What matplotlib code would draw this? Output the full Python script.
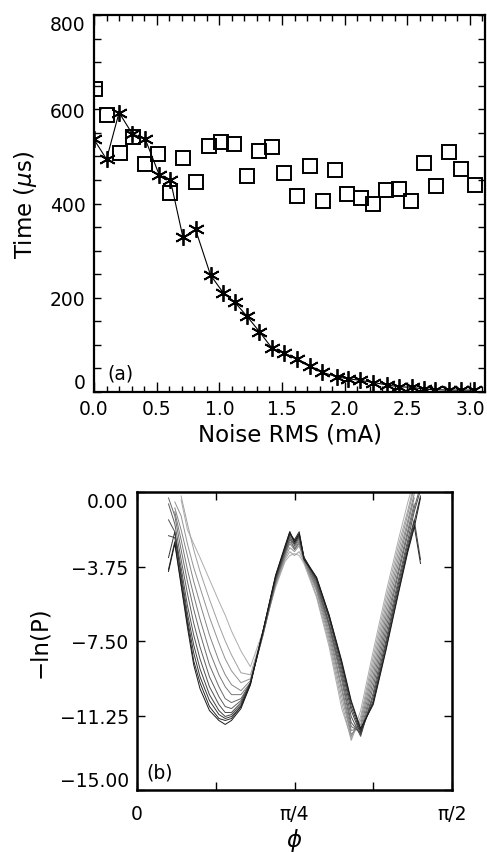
import numpy as np
import matplotlib
matplotlib.use("Agg")
import matplotlib.pyplot as plt
from matplotlib.ticker import MultipleLocator, FixedLocator, FixedFormatter, FormatStrFormatter

plt.rcParams['font.family'] = ['DejaVu Sans']
plt.rcParams['mathtext.fontset'] = 'dejavusans'

# ---------------- Panel (a) data ----------------
noise_sq = [0.01, 0.10, 0.21, 0.31, 0.41, 0.51, 0.61, 0.71, 0.81, 0.915, 1.015, 1.12,
            1.22, 1.32, 1.42, 1.52, 1.62, 1.72, 1.825, 1.92, 2.02, 2.13, 2.23, 2.33,
            2.43, 2.53, 2.63, 2.73, 2.83, 2.93, 3.04]
time_sq = [643, 587, 508, 542, 483, 505, 422, 497, 446, 521, 531, 527,
           459, 512, 519, 464, 415, 480, 406, 471, 420, 411, 399, 429,
           431, 406, 487, 437, 509, 473, 440]

noise_st = [0.0, 0.10, 0.20, 0.305, 0.41, 0.52, 0.61, 0.71, 0.81, 0.93, 1.03, 1.125,
            1.22, 1.32, 1.42, 1.52, 1.62, 1.72, 1.82, 1.94, 2.03, 2.12, 2.23, 2.34,
            2.43, 2.54, 2.63, 2.72, 2.83, 2.93, 3.03]
time_st = [536, 494, 593, 548, 536, 461, 449, 328, 345, 248, 211, 190,
           161, 128, 93, 82, 71, 55, 42, 32, 28, 25, 20, 15,
           11, 10, 6, 5, 4, 4, 4]
a_yticks = [0, 200, 400, 600, 800]

# ---------------- Panel (b) data ----------------
# phi expressed as a fraction of pi/2
phi_frac = [0.10, 0.12, 0.14, 0.16, 0.18, 0.20, 0.23, 0.26, 0.28, 0.30, 0.33, 0.36, 0.40, 0.44,
            0.47, 0.485, 0.50, 0.515, 0.53, 0.57, 0.61, 0.65, 0.68, 0.71, 0.75, 0.79, 0.83,
            0.86, 0.88, 0.90]
nan = np.nan
lnP_curves = [
    [nan, nan, -0.4, -1.9, -2.6, -3.3, -4.4, -5.5, -6.2, -7.0, -8.0, -8.8, -7.0, -4.8, -3.5, -3.2, -3.1, -3.2, -3.6, -5.3, -7.8, -10.9, -12.4, -11.0, -8.0, -5.1, -2.4, -0.5, 0.6, nan],
    [nan, nan, -0.2, -1.6, -2.9, -4.0, -5.4, -6.7, -7.5, -8.2, -9.1, -9.2, -7.1, -4.7, -3.4, -3.0, -3.2, -3.0, -3.5, -5.2, -7.6, -10.6, -12.5, -11.3, -8.3, -5.4, -2.7, -0.9, 0.4, nan],
    [nan, -0.5, -1.2, -2.6, -3.8, -4.8, -6.3, -7.6, -8.4, -9.0, -9.6, -9.4, -7.2, -4.6, -3.3, -2.8, -3.0, -2.7, -3.5, -5.0, -7.4, -10.3, -12.3, -11.5, -8.6, -5.7, -3.0, -1.1, 0.2, nan],
    [nan, -0.8, -1.9, -3.2, -4.5, -5.6, -7.2, -8.5, -9.2, -9.7, -10.0, -9.5, -7.2, -4.6, -3.2, -2.6, -2.9, -2.6, -3.4, -4.9, -7.2, -10.0, -12.2, -11.7, -8.9, -6.0, -3.3, -1.4, -0.1, nan],
    [nan, -1.0, -2.4, -3.9, -5.2, -6.4, -8.0, -9.2, -9.8, -10.2, -10.2, -9.6, -7.2, -4.5, -3.1, -2.5, -2.8, -2.4, -3.4, -4.8, -7.0, -9.8, -12.0, -11.9, -9.2, -6.3, -3.6, -1.6, -0.3, nan],
    [-0.3, -1.2, -2.9, -4.5, -5.9, -7.1, -8.7, -9.8, -10.4, -10.6, -10.4, -9.6, -7.1, -4.5, -3.1, -2.3, -2.9, -2.5, -3.3, -4.7, -6.8, -9.5, -11.8, -12.1, -9.5, -6.6, -3.9, -1.9, -0.6, nan],
    [-0.6, -1.6, -3.4, -5.1, -6.6, -7.8, -9.3, -10.3, -10.8, -10.9, -10.5, -9.6, -7.1, -4.4, -3.0, -2.4, -2.6, -2.2, -3.3, -4.6, -6.7, -9.3, -11.6, -12.2, -9.8, -6.9, -4.1, -2.1, -0.8, 0.3],
    [-1.4, -2.0, -3.8, -5.7, -7.2, -8.4, -9.8, -10.7, -11.1, -11.1, -10.6, -9.6, -7.1, -4.4, -2.9, -2.2, -2.7, -2.3, -3.3, -4.5, -6.6, -9.1, -11.3, -12.3, -10.1, -7.2, -4.4, -2.4, -1.0, 0.1],
    [-2.2, -2.3, -4.1, -6.1, -7.7, -8.9, -10.2, -11.0, -11.3, -11.2, -10.7, -9.6, -7.0, -4.3, -2.9, -2.1, -2.5, -2.1, -3.3, -4.4, -6.4, -8.9, -11.0, -12.2, -10.3, -7.5, -4.6, -2.6, -1.4, -3.4],
    [-3.3, -2.0, -4.3, -6.4, -8.1, -9.3, -10.5, -11.2, -11.4, -11.3, -10.8, -9.6, -7.0, -4.3, -2.8, -2.0, -2.6, -2.2, -3.3, -4.4, -6.3, -8.7, -10.8, -12.1, -10.5, -7.7, -4.8, -2.8, -1.5, -0.2],
    [-3.9, -2.5, -4.6, -6.6, -8.5, -9.6, -10.8, -11.4, -11.5, -11.4, -10.8, -9.7, -7.0, -4.2, -2.8, -2.1, -2.4, -2.0, -3.3, -4.3, -6.2, -8.6, -10.6, -12.0, -10.6, -7.9, -5.0, -2.9, -1.7, -3.6],
    [-4.0, -2.6, -4.7, -6.8, -8.7, -9.9, -11.0, -11.5, -11.7, -11.5, -10.9, -9.7, -7.0, -4.2, -2.7, -2.0, -2.5, -2.1, -3.4, -4.3, -6.2, -8.5, -10.5, -11.9, -10.7, -8.0, -5.1, -3.0, -1.8, -0.3],
]
b_yticks = [0.0, -3.75, -7.50, -11.25, -15.0]
b_yticklabels = ['0.00', '\u22123.75', '\u22127.50', '\u221211.25', '\u221215.00']
b_xticklabels = ['0', '', '\u03c0/4', '', '\u03c0/2']

W, H = 487, 853
fig = plt.figure(figsize=(W / 100, H / 100), dpi=100)

def frac(l, t, r, b):
    return [l / W, 1 - b / H, (r - l) / W, (b - t) / H]

# ---------------- Panel (a) ----------------
ax = fig.add_axes(frac(94, 16, 485, 393))
ax.plot(noise_st, time_st, color='black', lw=0.8, marker=(6, 2, 0), ms=12, mew=1.3, zorder=3)
ax.plot(noise_st, time_st, ls='none', color='black', marker='o', ms=2.5, zorder=4)
ax.plot(noise_sq, time_sq, ls='none', marker='s', ms=9.5, mfc='none', mec='black', mew=1.4, zorder=2)
ax.set_xlim(0, 3.12)
ax.set_ylim(0, 800)
ax.xaxis.set_major_locator(MultipleLocator(0.5))
ax.xaxis.set_minor_locator(MultipleLocator(0.1))
ax.yaxis.set_major_locator(FixedLocator(a_yticks))
ax.yaxis.set_minor_locator(MultipleLocator(50))
ax.xaxis.set_major_formatter(FormatStrFormatter('%.1f'))
ax.tick_params(which='both', direction='in', top=True, right=True, labelsize=13.5, width=1.0)
ax.tick_params(which='major', length=7)
ax.tick_params(which='minor', length=4)
ax.tick_params(axis='y', which='both', length=5)
ax.tick_params(axis='x', which='major', pad=5)
ax.tick_params(axis='y', which='major', pad=6)
for s in ax.spines.values():
    s.set_linewidth(1.6)
ax.set_xlabel('Noise RMS (mA)', fontsize=16.5, labelpad=3)
ax.set_ylabel('Time ($\\mu$s)', fontsize=16.5, labelpad=8)
ax.text(0.035, 0.025, '(a)', transform=ax.transAxes, fontsize=13.5, ha='left', va='bottom')
yt = ax.yaxis.get_major_ticks()
yt[0].label1.set_va('bottom')
yt[-1].label1.set_va('top')

# ---------------- Panel (b) ----------------
bx = fig.add_axes(frac(137, 493, 452, 791))
phi = np.array(phi_frac) * np.pi / 2
n = len(lnP_curves)
for k, ys in enumerate(lnP_curves):
    g = 0.68 - 0.58 * k / (n - 1)
    bx.plot(phi, ys, color=(g, g, g), lw=0.7)
bx.set_xlim(0, np.pi / 2)
bx.set_ylim(-15, 0)
bx.xaxis.set_major_locator(FixedLocator([0, np.pi / 8, np.pi / 4, 3 * np.pi / 8, np.pi / 2]))
bx.xaxis.set_major_formatter(FixedFormatter(b_xticklabels))
bx.yaxis.set_major_locator(FixedLocator(b_yticks))
bx.yaxis.set_major_formatter(FixedFormatter(b_yticklabels))
bx.tick_params(direction='in', top=True, right=True, labelsize=13.5, length=6, width=1.0)
bx.tick_params(axis='x', pad=10)
bx.tick_params(axis='y', pad=6)
for s in bx.spines.values():
    s.set_linewidth(1.8)
bx.set_xlabel('$\\phi$', fontsize=16.5, labelpad=2)
bx.set_ylabel('\u2212ln(P)', fontsize=16.5, labelpad=6)
bx.text(0.03, 0.03, '(b)', transform=bx.transAxes, fontsize=13.5, ha='left', va='bottom')
bt = bx.yaxis.get_major_ticks()
bt[0].label1.set_va('top')      # 0.00 sits just below its tick
bt[-1].label1.set_va('bottom')  # -15.00 sits just above its tick

fig.savefig('out.png', dpi=100)
